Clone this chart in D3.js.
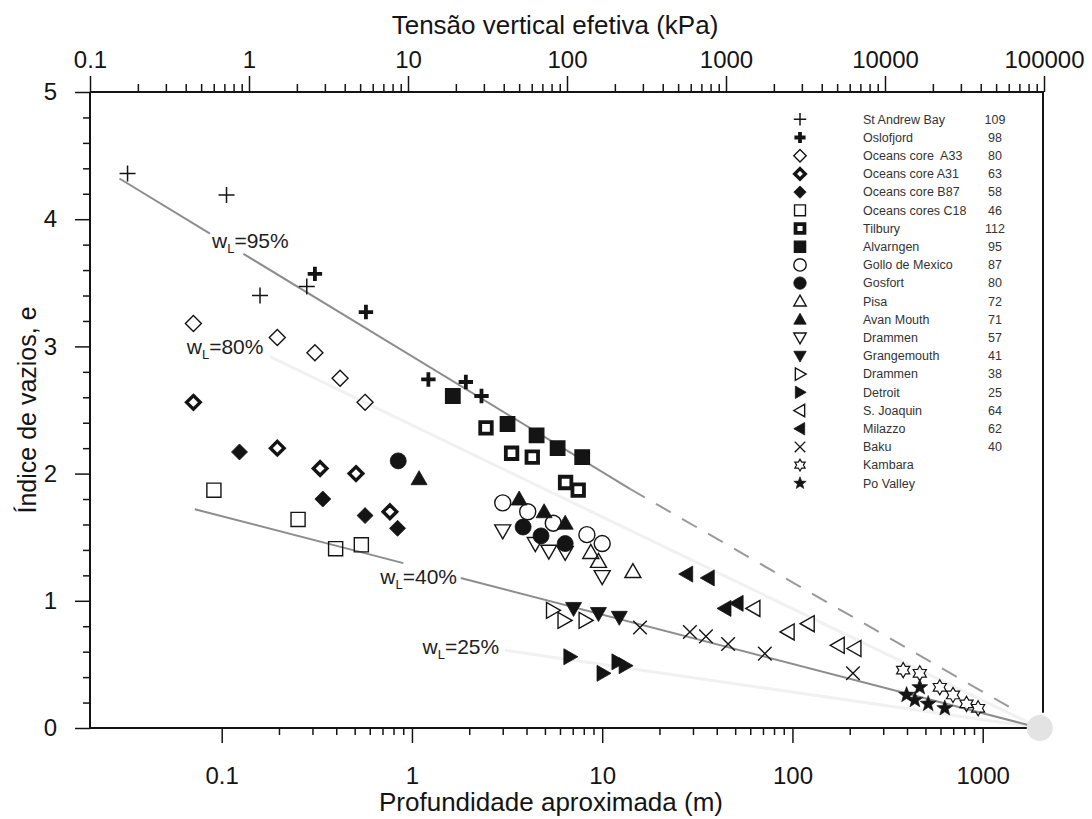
<!DOCTYPE html>
<html>
<head>
<meta charset="utf-8">
<script src="https://cdn.jsdelivr.net/npm/d3@7"></script>
<style>
  body { margin: 0; background: #fff; }
  svg { display: block; font-family: "Liberation Sans", Arial, Helvetica, sans-serif; }
</style>
</head>
<body>
<svg id="chart" width="1092" height="819"></svg>
<script>
// Each point is [approx. depth (m), void ratio e]
const stAndrewBay = [[0.032, 4.36], [0.106, 4.19], [0.159, 3.40], [0.280, 3.47]];
const oslofjord = [[0.309, 3.57], [0.573, 3.27], [1.22, 2.74], [1.92, 2.72], [2.32, 2.61]];
const oceansA33 = [[0.071, 3.18], [0.196, 3.07], [0.309, 2.95], [0.419, 2.75], [0.567, 2.56]];
const oceansA31 = [[0.071, 2.56], [0.196, 2.20], [0.329, 2.04], [0.508, 2.00], [0.766, 1.70]];
const oceansB87 = [[0.124, 2.17], [0.340, 1.80], [0.567, 1.67], [0.840, 1.57]];
const oceansC18 = [[0.091, 1.87], [0.252, 1.64], [0.397, 1.41], [0.542, 1.44]];
const tilbury = [[2.45, 2.36], [3.34, 2.16], [4.29, 2.13], [6.42, 1.93], [7.48, 1.87]];
const alvarngen = [[1.64, 2.61], [3.18, 2.39], [4.52, 2.30], [5.83, 2.20], [7.85, 2.13]];
const golloDeMexico = [[3.00, 1.77], [4.06, 1.70], [5.53, 1.61], [8.31, 1.52], [10.0, 1.45]];
const gosfort = [[0.847, 2.10], [3.84, 1.58], [4.77, 1.51], [6.39, 1.45]];
const pisa = [[8.71, 1.38], [9.56, 1.31], [14.5, 1.23]];
const avanMouth = [[1.09, 1.96], [3.66, 1.80], [4.95, 1.70], [6.39, 1.61]];
const drammen57 = [[3.00, 1.55], [4.45, 1.45], [5.24, 1.39], [6.39, 1.38], [10.0, 1.19]];
const grangemouth = [[7.07, 0.94], [9.56, 0.90], [12.3, 0.87]];
const drammen38 = [[5.48, 0.925], [6.30, 0.846], [8.13, 0.846]];
const detroit = [[6.76, 0.56], [10.1, 0.43], [12.1, 0.52], [13.2, 0.49]];
const sJoaquin = [[62.7, 0.94], [94.9, 0.755], [121, 0.82], [174, 0.65], [213, 0.625]];
const milazzo = [[27.8, 1.21], [36.1, 1.18], [44.2, 0.94], [51.2, 0.98]];
const baku = [[15.8, 0.79], [28.9, 0.755], [35.1, 0.72], [45.9, 0.66], [71.6, 0.585], [208, 0.43]];
const kambara = [[382, 0.455], [467, 0.43], [595, 0.32], [698, 0.26], [822, 0.19], [946, 0.155]];
const poValley = [[467, 0.32], [398, 0.26], [440, 0.22], [517, 0.19], [632, 0.155]];

const seriesNames = ["St Andrew Bay", "Oslofjord", "Oceans core\u00a0 A33", "Oceans core A31",
  "Oceans core B87", "Oceans cores C18", "Tilbury", "Alvarngen", "Gollo de Mexico", "Gosfort",
  "Pisa", "Avan Mouth", "Drammen", "Grangemouth", "Drammen", "Detroit", "S. Joaquin",
  "Milazzo", "Baku", "Kambara", "Po Valley"];
const liquidLimits = ["109", "98", "80", "63", "58", "46", "112", "95", "87", "80", "72",
  "71", "57", "41", "38", "25", "64", "62", "40", "", ""];
const seriesData = [stAndrewBay, oslofjord, oceansA33, oceansA31, oceansB87, oceansC18,
  tilbury, alvarngen, golloDeMexico, gosfort, pisa, avanMouth, drammen57, grangemouth,
  drammen38, detroit, sJoaquin, milazzo, baku, kambara, poValley];
const symbolKinds = ["plus", "plusBold", "diamondOpen", "diamondBold", "diamondFilled",
  "squareOpen", "squareBold", "squareFilled", "circleOpen", "circleFilled",
  "upOpen", "upFilled", "downOpen", "downFilled", "rightOpen", "rightFilled",
  "leftOpen", "leftFilled", "cross", "hexagram", "star"];

// w_L reference lines, [depth, e]
const wl95Solid = [[[0.029, 4.32], [0.0868, 3.887]], [[0.130, 3.728], [14.0, 1.88]]];
const wl95Dashed = [[14.0, 1.88], [1476, 0.14]];
const wl40Solid = [[[0.0722, 1.72], [0.901, 1.296]], [[1.805, 1.179], [1995, 0]]];
const wlFaint = [[[0.1795, 2.92], [1995, 0]], [[3.08, 0.611], [1995, 0]]];
const convergence = [1995, 0];
const lineLabels = ["95%", "80%", "40%", "25%"];
const lineLabelAt = [[0.0889, 3.77], [0.0655, 2.94], [0.682, 1.136], [1.136, 0.58]];

const eTicks = [0, 1, 2, 3, 4, 5];
const eTickLabels = ["0", "1", "2", "3", "4", "5"];
const depthTicks = [0.1, 1, 10, 100, 1000];
const depthTickLabels = ["0.1", "1", "10", "100", "1000"];
const stressTicks = [0.1, 1, 10, 100, 1000, 10000, 100000];
const stressTickLabels = ["0.1", "1", "10", "100", "1000", "10000", "100000"];

const frame = { left: 90, right: 1043, top: 92, bottom: 728 };

const xDepth = d3.scaleLog().domain([0.1, 1000]).range([221.7, 982.7]);
const xStress = d3.scaleLog().domain([0.1, 100000]).range([90, 1044]);
const yVoid = d3.scaleLinear().domain([0, 5]).range([frame.bottom, frame.top]);

const svg = d3.select('#chart');
const ink = '#141414';

// ---- marker shapes
function poly(pts) {
  return 'M' + pts.map(p => p[0].toFixed(2) + ',' + p[1].toFixed(2)).join('L') + 'Z';
}
function starPts(n, rOut, rIn) {
  let pts = [];
  for (let i = 0; i < 2 * n; i++) {
    let a = -Math.PI / 2 + i * Math.PI / n;
    let r = i % 2 ? rIn : rOut;
    pts.push([r * Math.cos(a), r * Math.sin(a)]);
  }
  return pts;
}
function shape(kind, h) {
  let base = kind.replace(/(Open|Filled|Bold)$/, '');
  switch (base) {
    case 'plus': return `M${-h},0H${h}M0,${-h}V${h}`;
    case 'cross': return `M${-h},${-h}L${h},${h}M${-h},${h}L${h},${-h}`;
    case 'diamond': return poly([[0, -h], [h, 0], [0, h], [-h, 0]]);
    case 'square': return poly([[-h, -h], [h, -h], [h, h], [-h, h]]);
    case 'circle': return `M${h},0A${h},${h} 0 1,1 ${-h},0A${h},${h} 0 1,1 ${h},0Z`;
    case 'up': return poly([[0, -h], [h, 0.75 * h], [-h, 0.75 * h]]);
    case 'down': return poly([[0, h], [h, -0.75 * h], [-h, -0.75 * h]]);
    case 'right': return poly([[h, 0], [-0.75 * h, -h], [-0.75 * h, h]]);
    case 'left': return poly([[-h, 0], [0.75 * h, -h], [0.75 * h, h]]);
    case 'hexagram': return poly(starPts(6, h, h * 0.577));
    case 'star': return poly(starPts(5, h, h * 0.42));
  }
}
function drawMarker(sel, kind, h) {
  let size = h, sw = 1.4, fill = 'none';
  if (kind === 'plusBold') { size = h * 0.9; sw = 3.8; }
  else if (kind === 'plus') { sw = 1.5; }
  else if (kind === 'diamondBold') { size = h * 0.85; sw = 3.4; fill = '#fff'; }
  else if (kind === 'squareOpen') { size = h * 0.88; }
  else if (kind === 'squareBold') { size = h * 0.72; sw = 3.8; fill = '#fff'; }
  else if (kind === 'squareFilled') { size = h * 0.9; fill = ink; }
  else if (kind === 'cross') { size = h * 0.85; }
  else if (kind === 'star') { size = h * 1.05; fill = ink; sw = 0.6; }
  else if (kind === 'hexagram') { size = h * 0.95; sw = 1.2; }
  else if (/Filled$/.test(kind)) { fill = ink; sw = 0.8; }
  sel.append('path')
     .attr('d', shape(kind, size))
     .attr('fill', fill)
     .attr('stroke', ink)
     .attr('stroke-width', sw)
     .attr('stroke-linejoin', 'miter');
}

// ---- reference lines
const line = d3.line().x(d => xDepth(d[0])).y(d => yVoid(d[1]));
const lines = svg.append('g').attr('class', 'lines').attr('fill', 'none');

lines.selectAll('path.faint')
     .data(wlFaint)
     .join('path')
     .attr('class', 'faint')
     .attr('d', line)
     .attr('stroke', '#f1f1f1')
     .attr('stroke-width', 3);

lines.selectAll('path.solid')
     .data(wl95Solid.concat(wl40Solid))
     .join('path')
     .attr('class', 'solid')
     .attr('d', line)
     .attr('stroke', '#8d8d8d')
     .attr('stroke-width', 2);

lines.append('path')
     .attr('d', line(wl95Dashed))
     .attr('stroke', '#9a9a9a')
     .attr('stroke-width', 2)
     .attr('stroke-dasharray', '17,13');

// ---- w_L labels
const labels = svg.append('g').attr('class', 'wl-labels')
                  .attr('font-size', 21).attr('fill', '#1e1e1e');
lineLabels.forEach((txt, i) => {
  let t = labels.append('text')
                .attr('x', xDepth(lineLabelAt[i][0]))
                .attr('y', yVoid(lineLabelAt[i][1]));
  t.append('tspan').text('w');
  t.append('tspan').attr('font-size', 13).attr('dy', 5).text('L');
  t.append('tspan').attr('dy', -5).text('=' + txt);
});

// ---- data points
const plot = svg.append('g').attr('class', 'plot');
seriesData.forEach((pts, i) => {
  plot.append('g')
      .attr('class', 'series')
      .selectAll('g')
      .data(pts)
      .join('g')
      .attr('transform', d => `translate(${xDepth(d[0])},${yVoid(d[1])})`)
      .each(function () { drawMarker(d3.select(this), symbolKinds[i], 8); });
});

// ---- legend
const legend = svg.append('g').attr('class', 'legend')
                  .attr('font-size', 12.5).attr('fill', '#333');
const rowY = i => 119.3 + i * 18.2;
seriesNames.forEach((name, i) => {
  let row = legend.append('g').attr('transform', `translate(0,${rowY(i)})`);
  drawMarker(row.append('g').attr('transform', 'translate(800,0)'), symbolKinds[i], 6.2);
  row.append('text').attr('x', 863).attr('dy', '0.35em').text(name);
  row.append('text').attr('x', 995).attr('dy', '0.35em')
     .attr('text-anchor', 'middle').text(liquidLimits[i]);
});

// ---- axes
function styleAxis(g, fontSize) {
  g.select('.domain').remove();
  g.selectAll('line').attr('stroke', ink).attr('stroke-width', 1.5);
  g.selectAll('text').attr('fill', ink).attr('font-size', fontSize)
   .attr('font-family', '"Liberation Sans", Arial, sans-serif');
}
const isMajor = (ticks, v) => ticks.some(m => Math.abs(m - v) / m < 1e-6);

svg.append('g')
   .attr('transform', `translate(0,${frame.top})`)
   .call(d3.axisTop(xStress).tickValues(stressTicks).tickSize(16).tickPadding(8)
           .tickFormat((d, i) => stressTickLabels[i]))
   .call(g => styleAxis(g, 24));
svg.append('g')
   .attr('transform', `translate(0,${frame.top})`)
   .call(d3.axisTop(xStress).tickValues(xStress.ticks().filter(v => !isMajor(stressTicks, v)))
           .tickSize(8).tickFormat(''))
   .call(g => styleAxis(g, 24));

svg.append('g')
   .attr('transform', `translate(0,${frame.bottom})`)
   .call(d3.axisBottom(xDepth).tickValues(depthTicks).tickSize(15).tickPadding(24)
           .tickFormat((d, i) => depthTickLabels[i]))
   .call(g => styleAxis(g, 24));
svg.append('g')
   .attr('transform', `translate(0,${frame.bottom})`)
   .call(d3.axisBottom(xDepth).tickValues(xDepth.ticks().filter(v => !isMajor(depthTicks, v)))
           .tickSize(7).tickFormat(''))
   .call(g => styleAxis(g, 24));

svg.append('g')
   .attr('transform', `translate(${frame.left},0)`)
   .call(d3.axisLeft(yVoid).tickValues(eTicks).tickSize(15).tickPadding(18)
           .tickFormat((d, i) => eTickLabels[i]))
   .call(g => styleAxis(g, 24));
svg.append('g')
   .attr('transform', `translate(${frame.left},0)`)
   .call(d3.axisLeft(yVoid).tickValues(d3.range(0, 5, 0.2).filter(v => Math.abs(v - Math.round(v)) > 1e-6))
           .tickSize(7).tickFormat(''))
   .call(g => styleAxis(g, 24));

// frame
const box = svg.append('g').attr('stroke', ink).attr('stroke-width', 2).attr('fill', 'none');
box.append('path').attr('d', `M${frame.left},${frame.top}H1044`);
box.append('path').attr('d', `M${frame.left},${frame.top}V${frame.bottom}H${frame.right}`);
box.append('path').attr('d', `M${frame.right},${frame.top}V${yVoid(0.12)}`);

// grey smudge where the lines meet
svg.append('circle')
   .attr('cx', xDepth(convergence[0]))
   .attr('cy', yVoid(convergence[1]))
   .attr('r', 13)
   .attr('fill', '#e3e3e3');

// titles
svg.append('text')
   .attr('x', 555).attr('y', 34)
   .attr('text-anchor', 'middle').attr('font-size', 26).attr('fill', ink)
   .text('Tensão vertical efetiva (kPa)');
svg.append('text')
   .attr('x', 551).attr('y', 811)
   .attr('text-anchor', 'middle').attr('font-size', 26).attr('fill', ink)
   .text('Profundidade aproximada (m)');
svg.append('text')
   .attr('transform', 'translate(36,410) rotate(-90)')
   .attr('text-anchor', 'middle').attr('font-size', 25).attr('fill', ink)
   .text('Índice de vazios, e');
</script>
</body>
</html>
